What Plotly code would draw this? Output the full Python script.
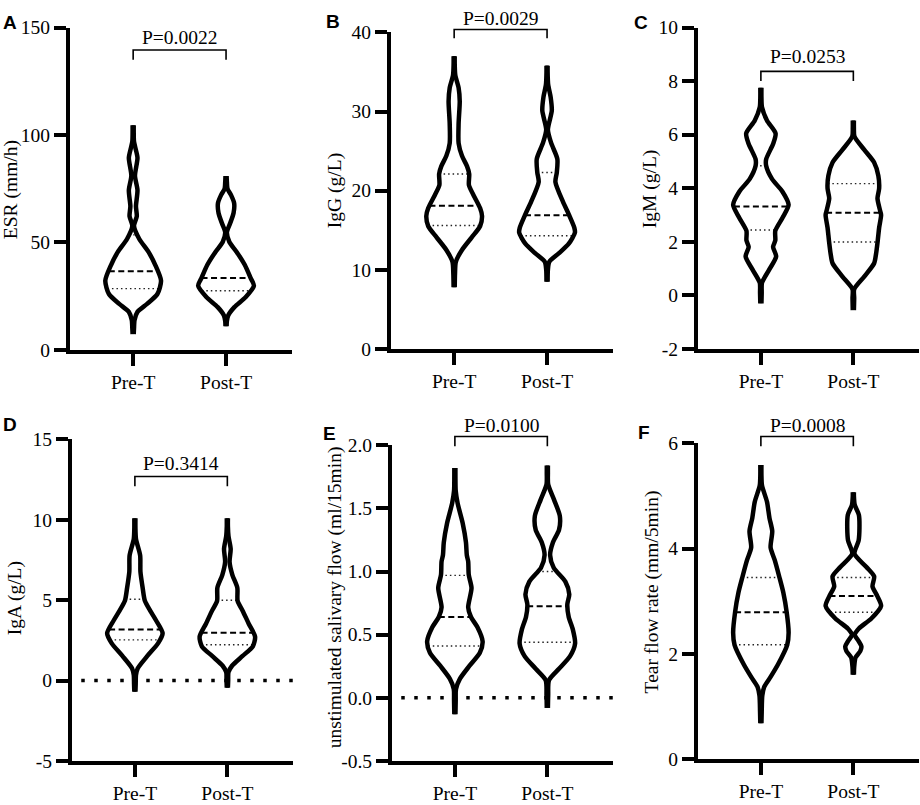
import numpy as np
import plotly.graph_objects as go

groups = ["Pre-T", "Post-T"]

# violin outlines: y levels and relative half-width (1 = widest)
esr_pre_y = [7.3, 10, 13.9, 17.7, 21.4, 26, 32.2, 39.6, 45.6, 51.6, 57.7, 62.2, 66.8, 74.3, 81, 89.4, 94, 97, 101, 104.5]
esr_pre_w = [0.02, 0.03, 0.05, 0.155, 0.5, 0.87, 1.0, 0.79, 0.55, 0.22, 0.03, 0.13, 0.1, 0.155, 0.065, 0.155, 0.08, 0.03, 0.02, 0.02]
esr_post_y = [11, 13.5, 16.1, 19.9, 24.5, 29.8, 33.5, 39.6, 45.6, 50.2, 54.7, 59, 63.7, 68.3, 72, 75, 78, 80.9]
esr_post_w = [0.02, 0.03, 0.08, 0.3, 0.7, 1.0, 0.88, 0.67, 0.38, 0.12, 0.03, 0.15, 0.27, 0.29, 0.18, 0.05, 0.03, 0.02]

igg_pre_y = [7.8, 9.5, 11, 12.5, 14.1, 15.5, 16.8, 17.8, 19.4, 20.7, 22.1, 23.1, 24.4, 26, 28.5, 31.3, 33, 34.6, 36, 37]
igg_pre_w = [0.02, 0.03, 0.06, 0.28, 0.63, 0.93, 1.0, 0.93, 0.7, 0.53, 0.54, 0.46, 0.28, 0.16, 0.16, 0.2, 0.16, 0.04, 0.02, 0.02]
igg_post_y = [8.5, 10, 11, 12.1, 13.3, 14.7, 15.3, 17, 18.6, 21.1, 22.3, 24, 26, 27.7, 30.1, 31.8, 33.4, 35, 35.8]
igg_post_w = [0.02, 0.03, 0.08, 0.43, 0.78, 1.0, 0.98, 0.78, 0.57, 0.3, 0.35, 0.37, 0.15, 0.03, 0.17, 0.13, 0.04, 0.02, 0.02]

igm_pre_y = [-0.3, 0.1, 0.47, 0.96, 1.45, 1.81, 2.05, 2.41, 2.9, 3.38, 3.87, 4.35, 4.84, 5.08, 5.68, 6.05, 6.53, 7.02, 7.4, 7.75]
igm_pre_w = [0.02, 0.03, 0.04, 0.3, 0.55, 0.44, 0.52, 0.52, 0.78, 1.0, 0.78, 0.4, 0.19, 0.19, 0.45, 0.53, 0.22, 0.04, 0.02, 0.02]
igm_post_y = [-0.55, -0.1, 0.23, 0.71, 1.2, 1.56, 2.05, 2.53, 3.0, 3.14, 3.62, 3.99, 4.47, 4.96, 5.44, 5.93, 6.25, 6.53]
igm_post_w = [0.02, 0.03, 0.03, 0.4, 0.75, 0.82, 0.88, 0.93, 1.0, 0.97, 0.87, 0.93, 0.9, 0.75, 0.39, 0.04, 0.02, 0.02]

iga_pre_y = [-0.7, -0.2, 0.35, 0.75, 1.53, 2.33, 2.94, 3.75, 4.35, 4.96, 5.77, 6.78, 7.79, 8.8, 9.5, 10.1]
iga_pre_w = [0.02, 0.03, 0.04, 0.1, 0.45, 0.84, 1.0, 0.76, 0.55, 0.36, 0.28, 0.2, 0.19, 0.04, 0.02, 0.02]
iga_post_y = [-0.45, 0.0, 0.52, 0.92, 1.53, 2.13, 2.73, 3.54, 4.35, 4.96, 5.77, 6.58, 7.38, 8.19, 9.0, 9.6, 10.1]
iga_post_w = [0.02, 0.03, 0.04, 0.17, 0.55, 0.92, 1.0, 0.77, 0.55, 0.37, 0.36, 0.18, 0.08, 0.12, 0.04, 0.02, 0.02]

sal_pre_y = [-0.13, -0.02, 0.07, 0.15, 0.254, 0.357, 0.447, 0.56, 0.64, 0.717, 0.87, 0.974, 1.08, 1.13, 1.23, 1.385, 1.54, 1.64, 1.75, 1.82]
sal_pre_w = [0.02, 0.03, 0.04, 0.18, 0.53, 0.9, 1.0, 0.81, 0.58, 0.48, 0.6, 0.5, 0.48, 0.43, 0.4, 0.28, 0.1, 0.03, 0.02, 0.02]
sal_post_y = [-0.08, 0.02, 0.14, 0.23, 0.33, 0.43, 0.54, 0.64, 0.74, 0.82, 0.92, 1.03, 1.13, 1.23, 1.33, 1.44, 1.57, 1.69, 1.78, 1.84]
sal_post_w = [0.02, 0.03, 0.06, 0.42, 0.82, 1.0, 0.92, 0.77, 0.72, 0.79, 0.65, 0.23, 0.1, 0.2, 0.42, 0.45, 0.24, 0.03, 0.02, 0.02]

tear_pre_y = [0.68, 0.9, 1.2, 1.37, 1.56, 1.8, 2.17, 2.4, 2.79, 3.16, 3.47, 3.78, 4.02, 4.33, 4.58, 4.89, 5.2, 5.4, 5.59]
tear_pre_w = [0.02, 0.03, 0.05, 0.12, 0.35, 0.62, 0.95, 1.0, 0.93, 0.81, 0.66, 0.5, 0.35, 0.41, 0.31, 0.22, 0.04, 0.02, 0.02]
tear_post_y = [1.6, 1.75, 1.93, 2.05, 2.14, 2.25, 2.36, 2.48, 2.67, 2.91, 3.1, 3.28, 3.47, 3.65, 3.9, 4.15, 4.39, 4.64, 4.83, 5.0, 5.07]
tear_post_w = [0.02, 0.03, 0.08, 0.25, 0.29, 0.18, 0.05, 0.2, 0.65, 1.0, 0.86, 0.69, 0.75, 0.47, 0.04, 0.19, 0.22, 0.2, 0.05, 0.02, 0.02]

# quartiles: Q1, median, Q3
esr_pre_q, esr_post_q = [28.5, 36.6, 53.5], [27.5, 33.5, 50.5]
igg_pre_q, igg_post_q = [15.6, 18.1, 22.1], [14.3, 16.9, 22.3]
igm_pre_q, igm_post_q = [2.44, 3.32, 4.84], [1.99, 3.08, 4.17]
iga_pre_q, iga_post_q = [2.53, 3.18, 5.06], [2.23, 2.98, 5.0]
sal_pre_q, sal_post_q = [0.41, 0.64, 0.97], [0.44, 0.725, 1.0]
tear_pre_q, tear_post_q = [2.17, 2.79, 3.45], [2.79, 3.1, 3.45]

letters = ["A", "B", "C", "D", "E", "F"]
y_titles = ["ESR (mm/h)", "IgG (g/L)", "IgM (g/L)", "IgA (g/L)",
            "unstimulated salivary flow (ml/15min)", "Tear flow rate (mm/5min)"]
p_values = ["P=0.0022", "P=0.0029", "P=0.0253", "P=0.3414", "P=0.0100", "P=0.0008"]
y_ranges = [[0, 150], [0, 40], [-2, 10], [-5, 15], [-0.5, 2.0], [0, 6]]
y_tickvals = [[0, 50, 100, 150], [0, 10, 20, 30, 40], [-2, 0, 2, 4, 6, 8, 10],
              [-5, 0, 5, 10, 15], [-0.5, 0, 0.5, 1.0, 1.5, 2.0], [0, 2, 4, 6]]
y_ticktext = [["0", "50", "100", "150"], ["0", "10", "20", "30", "40"],
              ["-2", "0", "2", "4", "6", "8", "10"], ["-5", "0", "5", "10", "15"],
              ["-0.5", "0.0", "0.5", "1.0", "1.5", "2.0"], ["0", "2", "4", "6"]]

violins = [
    [(esr_pre_y, esr_pre_w, esr_pre_q), (esr_post_y, esr_post_w, esr_post_q)],
    [(igg_pre_y, igg_pre_w, igg_pre_q), (igg_post_y, igg_post_w, igg_post_q)],
    [(igm_pre_y, igm_pre_w, igm_pre_q), (igm_post_y, igm_post_w, igm_post_q)],
    [(iga_pre_y, iga_pre_w, iga_pre_q), (iga_post_y, iga_post_w, iga_post_q)],
    [(sal_pre_y, sal_pre_w, sal_pre_q), (sal_post_y, sal_post_w, sal_post_q)],
    [(tear_pre_y, tear_pre_w, tear_pre_q), (tear_post_y, tear_post_w, tear_post_q)],
]

# layout in pixels of the 920x805 page
W, H = 920, 805
boxes = [(70, 292, 18, 349), (391, 613, 23, 348), (698, 919, 18, 348),
         (72, 293, 441, 771), (392, 613, 447, 771), (698, 919, 445, 769)]
bracket_px = [(41, 51, 28), (20, 29, 9), (63, 73, 48),
              (479, 489, 466), (438, 448, 427), (438, 448, 427)]
letter_px = [(10, 13), (333, 12), (641, 13), (10, 426), (329, 435), (644, 434)]
title_px = [(11, 185), (335, 186), (650, 184), (15, 604), (335, 603), (652, 598)]
HALF = 0.30

serif = "Liberation Serif, Times New Roman, serif"
sans = "Liberation Sans, Arial, sans-serif"
FS = 19.5


def fx(p):
    return p / W


def fy(p):
    return 1 - p / H


fig = go.Figure()
layout = {}
shapes = []
annotations = []

for i in range(6):
    n = "" if i == 0 else str(i + 1)
    xa, ya = "x" + n, "y" + n
    for pos, (vy, vw, vq) in enumerate(violins[i]):
        vy = np.array(vy, dtype=float)
        hw = np.array(vw) * HALF
        xs = list(pos + hw) + [None] + list(pos - hw)
        ys = list(vy) + [None] + list(vy)
        for k, q in enumerate(vq):
            h = float(np.interp(q, vy, hw))
            if k == 1:
                st = dict(color="black", width=2, dash="6px,3.5px")
            else:
                st = dict(color="#222222", width=1.4, dash="1.5px,3px")
            fig.add_trace(go.Scatter(x=[pos - h, pos + h], y=[q, q], mode="lines", line=st,
                                     xaxis=xa, yaxis=ya, showlegend=False, hoverinfo="skip"))
        fig.add_trace(go.Scatter(x=xs, y=ys, mode="lines",
                                 line=dict(color="black", width=4.5, shape="spline", smoothing=0.7),
                                 xaxis=xa, yaxis=ya, showlegend=False, hoverinfo="skip"))

    x0, x1, y0, y1 = boxes[i]
    layout["xaxis" + n] = dict(
        domain=[fx(x0), fx(x1)], range=[-0.68, 1.71], anchor=ya,
        tickvals=[0, 1], ticktext=groups, showgrid=False, zeroline=False,
        showline=True, linecolor="black", linewidth=4,
        ticks="outside", ticklen=12, tickwidth=4, tickcolor="black",
        tickfont=dict(family=serif, size=FS, color="black"), fixedrange=True)
    layout["yaxis" + n] = dict(
        domain=[fy(y1), fy(y0)], range=y_ranges[i], anchor=xa,
        tickvals=y_tickvals[i], ticktext=y_ticktext[i],
        showgrid=False, zeroline=False,
        showline=True, linecolor="black", linewidth=4,
        ticks="outside", ticklen=12, tickwidth=4, tickcolor="black",
        tickfont=dict(family=serif, size=FS, color="black"), fixedrange=True)

    top, leg, txt = bracket_px[i]
    shapes.append(dict(type="path", xref=xa, yref="paper",
                       path=f"M 0,{fy(leg)} L 0,{fy(top)} L 1,{fy(top)} L 1,{fy(leg)}",
                       line=dict(color="black", width=1.6)))
    annotations.append(dict(text=p_values[i], x=0.5, y=fy(txt), xref=xa, yref="paper",
                            showarrow=False, xanchor="center", yanchor="middle",
                            font=dict(family=serif, size=FS, color="black")))
    lx, ly = letter_px[i]
    annotations.append(dict(text="<b>" + letters[i] + "</b>", x=fx(lx), y=fy(ly),
                            xref="paper", yref="paper", showarrow=False,
                            xanchor="center", yanchor="middle",
                            font=dict(family=sans, size=19, color="black")))
    tx, ty = title_px[i]
    annotations.append(dict(text=y_titles[i], x=fx(tx), y=fy(ty), xref="paper", yref="paper",
                            showarrow=False, textangle=-90, xanchor="center", yanchor="middle",
                            font=dict(family=serif, size=FS, color="black")))
    if i in (3, 4):
        shapes.append(dict(type="line", xref=xa, yref=ya, x0=-0.58, x1=1.71, y0=0, y1=0,
                           layer="below", line=dict(color="black", width=3.5, dash="3.5px,9.5px")))

fig.update_layout(
    width=W, height=H, margin=dict(l=0, r=0, t=0, b=0),
    paper_bgcolor="white", plot_bgcolor="white",
    shapes=shapes, annotations=annotations, **layout)

# drop the default page margin so the 920x805 figure fills the window exactly
fig.write_html("out.html", config={"displayModeBar": False},
               post_script="document.body.style.margin='0';document.body.style.overflow='hidden';")
